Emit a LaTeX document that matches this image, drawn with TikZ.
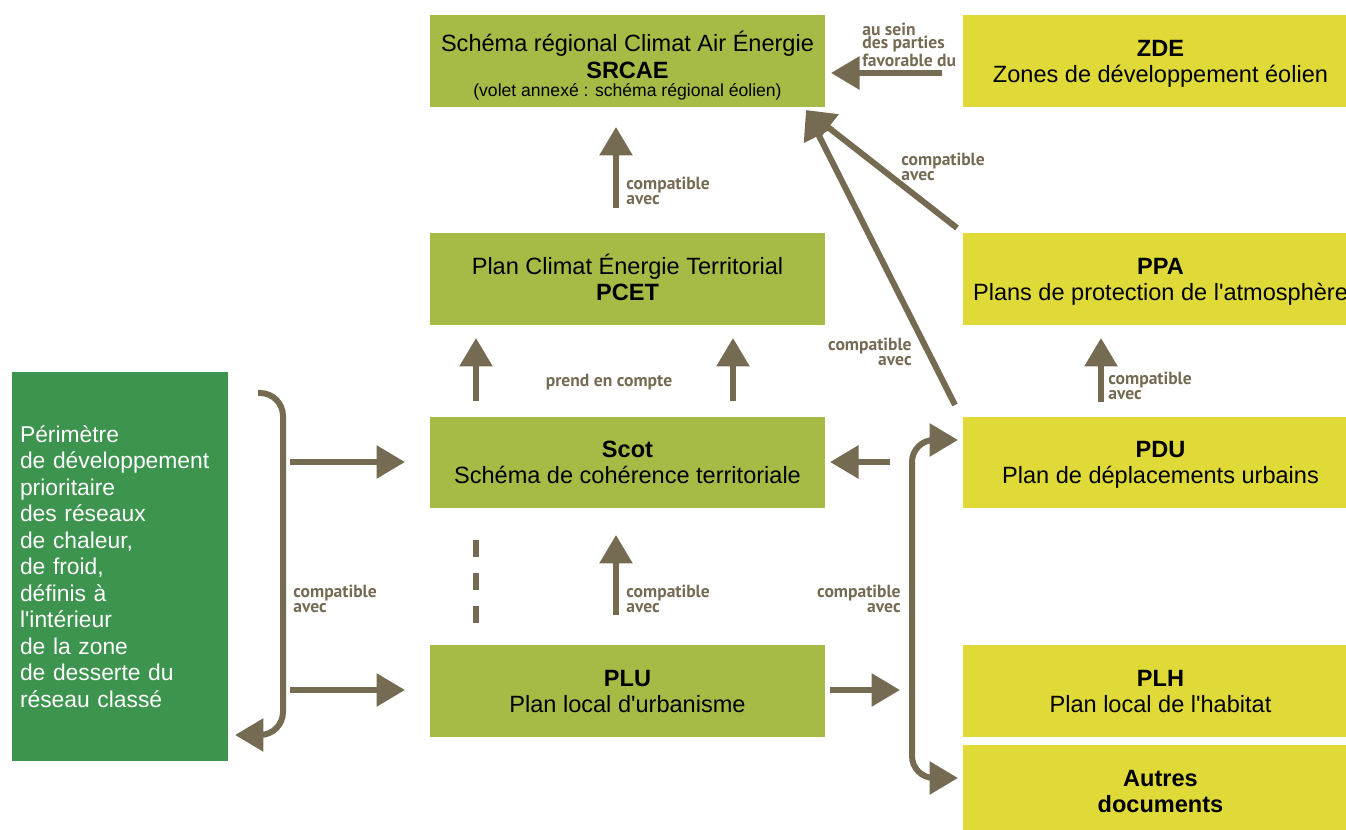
\documentclass[tikz,border=0pt]{standalone}
\usepackage{fontspec}
\setmainfont{Liberation Sans}
\newfontfamily\narrowfont{PT Sans}
\usetikzlibrary{arrows.meta, positioning, calc}
\definecolor{planvert}{RGB}{165,187,69}
\definecolor{planjaune}{RGB}{223,218,56}
\definecolor{reseauvert}{RGB}{61,148,78}
\definecolor{fleche}{RGB}{117,107,83}
\newcommand{\cale}{\rule[-2.8pt]{0pt}{15pt}}
\tikzset{>={Triangle[length=0.57cm,width=0.64cm]}}
\tikzset{
	plan/.style={rectangle, inner sep=0pt, minimum width=7.9cm, minimum height=1.84cm, align=center, font=\fontsize{13.4}{15}\selectfont},
	planv/.style={plan, fill=planvert},
	planj/.style={plan, fill=planjaune},
	lien/.style={->, draw=fleche, line width=0.12cm},
	mention/.style={text=fleche, inner sep=0pt, font=\narrowfont\bfseries\fontsize{10}{8.2}\selectfont}
}

\begin{document}
\begin{tikzpicture}[x=0.02cm, y=-0.02cm]
		\useasboundingbox (0,0) rectangle (1346,830);

		\node[planv] (srcae) at (627.5,61) {\rule{0pt}{18.1pt}Schéma régional Climat Air Énergie\\\textbf{SRCAE}\\[-4.9pt]{\fontsize{10}{11}\selectfont\strut(volet annexé : schéma régional éolien)}};
		\node[planj] (zde) at (1160.5,61) {\cale\textbf{ZDE}\\\cale Zones de développement éolien};
		\node[planv] (pcet) at (627.5,279) {\cale Plan Climat Énergie Territorial\\\cale\textbf{PCET}};
		\node[planj] (ppa) at (1160.5,279) {\cale\textbf{PPA}\\\cale Plans de protection de l\textquotesingle atmosphère};
		\node[planv] (scot) at (627.5,462.5) {\cale\textbf{Scot}\\\cale Schéma de cohérence territoriale};
		\node[planj] (pdu) at (1160.5,462.5) {\cale\textbf{PDU}\\\cale Plan de déplacements urbains};
		\node[planv] (plu) at (627.5,691) {\cale\textbf{PLU}\\\cale Plan local d\textquotesingle urbanisme};
		\node[planj] (plh) at (1160.5,691) {\cale\textbf{PLH}\\\cale Plan local de l\textquotesingle habitat};
		\node[planj] (autres) at (1160.5,791) {\cale\textbf{Autres}\\\cale\textbf{documents}};
		\node[fill=reseauvert, text=white, inner sep=0pt, minimum width=4.32cm, minimum height=7.78cm, text width=4cm, align=left, font=\fontsize{13}{15.1}\selectfont] (perimetre) at (120,566.5) {Périmètre\\de développement\\prioritaire\\des réseaux\\de chaleur,\\de froid,\\définis à\\l\textquotesingle intérieur\\de la zone\\de desserte du\\réseau classé};

		\coordinate (zde-q) at (942,73);
		\coordinate (zde-t) at (831,73);
		\coordinate (pcet-q) at (616,208);
		\coordinate (pcet-t) at (616,127);
		\coordinate (srcae-t) at (806,110);
		\coordinate (ppa-q) at (957,228);
		\coordinate (pdu-h) at (955,405);
		\coordinate (ppa-t) at (1101,338);
		\coordinate (pdu-b) at (1101,402);
		\coordinate (scot-gq) at (476,401);
		\coordinate (scot-gt) at (476,338);
		\coordinate (scot-dq) at (733,401);
		\coordinate (scot-dt) at (733,338);
		\coordinate (pdu-q) at (890,462);
		\coordinate (scot-t) at (830,462);
		\coordinate (perim-h) at (290,462);
		\coordinate (scot-g) at (405,462);
		\coordinate (perim-b) at (290,690);
		\coordinate (plu-g) at (405,690);
		\coordinate (tiret-h) at (476,540);
		\coordinate (tiret-b) at (476,623);
		\coordinate (plu-q) at (616,615);
		\coordinate (plu-t) at (616,535);
		\coordinate (plu-d) at (830,690);
		\coordinate (accol-d) at (900,690);

		\draw[lien] (zde-q) -- (zde-t);
		\draw[lien] (pcet-q) -- (pcet-t);
		\draw[lien] (ppa-q) -- (srcae-t);
		\draw[lien] (pdu-h) -- (srcae-t);
		\draw[lien] (pdu-b) -- (ppa-t);
		\draw[lien] (scot-gq) -- (scot-gt);
		\draw[lien] (scot-dq) -- (scot-dt);
		\draw[lien] (pdu-q) -- (scot-t);
		\draw[lien] (perim-h) -- (scot-g);
		\draw[lien] (perim-b) -- (plu-g);
		\draw[draw=fleche, line width=0.12cm, dash pattern=on 0.34cm off 0.32cm] (tiret-h) -- (tiret-b);
		\draw[lien] (plu-q) -- (plu-t);
		\draw[lien] (plu-d) -- (accol-d);
		\draw[lien, <->, rounded corners=0.44cm] (958,440) -- (912,440) -- (912,778) -- (958,778);
		\draw[lien, rounded corners=0.46cm] (258,393) -- (283,393) -- (283,735) -- (235,735);

		\begin{scope}[every node/.append style={mention}]
			\node[anchor=west, align=left, font=\narrowfont\bfseries\fontsize{10}{7.6}\selectfont] (sein) at (862,45) {au sein\\des parties\\favorable du};
			\node[anchor=west, align=left] (m1) at (626,191) {compatible\\avec};
			\node[anchor=west, align=left] (m2) at (901,167) {compatible\\avec};
			\node[anchor=east, align=right] (m3) at (912,352) {compatible\\avec};
			\node[anchor=west, align=left] (m4) at (1108,386) {compatible\\avec};
			\node (m5) at (609,382) {prend en compte};
			\node[anchor=west, align=left] (m6) at (293,599) {compatible\\avec};
			\node[anchor=west, align=left] (m7) at (626,599) {compatible\\avec};
			\node[anchor=east, align=right] (m8) at (901,599) {compatible\\avec};
		\end{scope}
	\end{tikzpicture}
\end{document}
